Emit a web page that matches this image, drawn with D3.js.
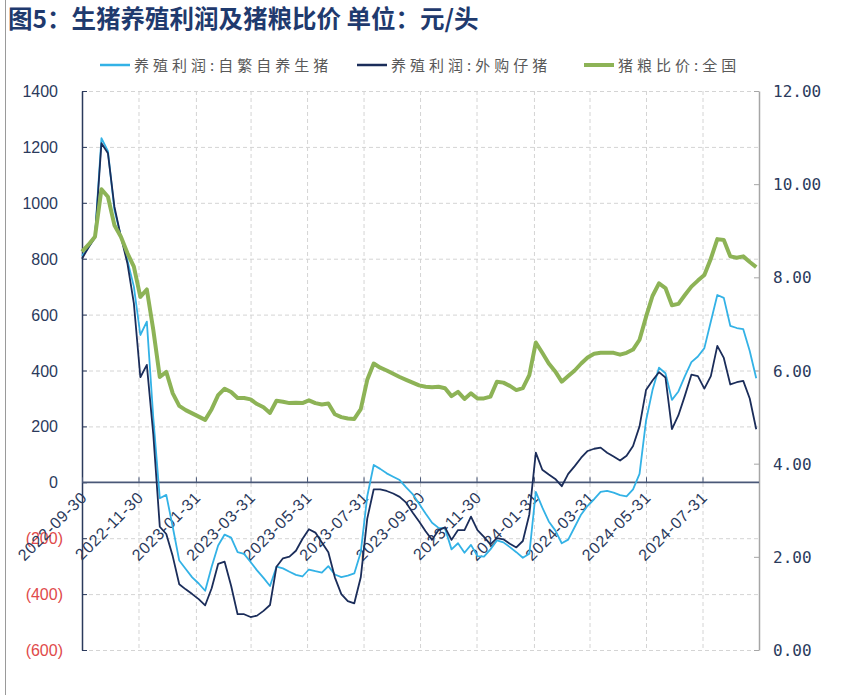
<!DOCTYPE html>
<html><head><meta charset="utf-8">
<script src="https://cdn.jsdelivr.net/npm/d3@7"></script>
<style>body{margin:0;background:#fff;} svg{display:block;}</style>
</head><body><svg id="chart" width="843" height="695"></svg>
<script>
const titleText = "图5：生猪养殖利润及猪粮比价 单位：元/头";
const seriesNames = ["养殖利润:自繁自养生猪", "养殖利润:外购仔猪", "猪粮比价:全国"];
const startDate = "2022-09-30";
const endDate = "2024-09-30";
const tickDates = ["2022-09-30","2022-11-30","2023-01-31","2023-03-31","2023-05-31","2023-07-31","2023-09-30","2023-11-30","2024-01-31","2024-03-31","2024-05-31","2024-07-31"];
const leftTicks = [1400,1200,1000,800,600,400,200,0,-200,-400,-600];
const rightTicks = [0,2,4,6,8,10,12];

// weekly values starting 2022-09-30
const profitSelf = [810,840,880,1231,1185,975,880,795,700,527,575,230,-57,-45,-160,-280,-310,-340,-362,-388,
-302,-226,-187,-198,-250,-256,-285,-315,-342,-371,-302,-308,-320,-331,-337,-312,-318,-323,-300,-330,
-339,-334,-326,-250,-50,62,48,32,20,8,-18,-42,-77,-112,-145,-163,-165,-240,-218,-252,
-224,-264,-266,-240,-208,-215,-232,-250,-270,-256,-34,-90,-140,-172,-218,-205,-160,-115,-84,-60,
-34,-31,-37,-46,-50,-25,30,220,330,410,390,295,325,380,430,450,480,575,670,660,
560,552,548,470,372];
const profitBuy = [800,840,875,1213,1177,986,879,784,640,376,420,170,-159,-185,-265,-365,-383,-400,-418,-440,
-379,-292,-284,-370,-472,-472,-482,-477,-460,-439,-302,-272,-266,-245,-203,-168,-180,-215,-250,-340,
-400,-425,-433,-340,-130,-25,-25,-31,-40,-52,-73,-108,-140,-175,-206,-171,-161,-206,-171,-171,
-123,-171,-195,-222,-200,-204,-220,-233,-210,-115,106,45,28,12,-14,30,58,88,112,120,
124,106,92,78,95,130,200,330,364,394,375,190,240,310,385,380,335,380,488,445,
350,358,363,300,190];
const hogGrainRatio = [8.55,8.70,8.87,9.89,9.73,9.12,8.87,8.52,8.23,7.58,7.74,6.87,5.86,5.97,5.51,5.24,5.15,5.08,5.01,4.94,
5.17,5.47,5.61,5.54,5.41,5.41,5.38,5.28,5.21,5.09,5.35,5.33,5.30,5.31,5.30,5.36,5.30,5.27,5.29,5.06,
5.00,4.97,4.96,5.17,5.80,6.15,6.06,6.00,5.93,5.86,5.80,5.74,5.68,5.65,5.64,5.65,5.62,5.45,5.54,5.39,
5.51,5.40,5.40,5.44,5.76,5.74,5.67,5.58,5.62,5.90,6.60,6.38,6.15,5.98,5.76,5.88,6.00,6.15,6.28,6.36,
6.38,6.38,6.38,6.34,6.38,6.45,6.66,7.15,7.60,7.87,7.77,7.40,7.43,7.62,7.80,7.93,8.05,8.40,8.82,8.80,
8.45,8.42,8.45,8.33,8.22];

const colors = ["#33b2e6", "#1b2d5a", "#8db356"];
const widths = [1.8, 1.8, 4];
const navy = "#2b3a5c";

const parse = d3.timeParse("%Y-%m-%d");
const t0 = parse(startDate);
const dates = profitSelf.map((_, i) => d3.timeDay.offset(t0, 7 * i));

const L = 82, R = 759, T = 91, B = 650;
const x = d3.scaleTime().domain([t0, parse(endDate)]).range([L, R]);
const yL = d3.scaleLinear().domain([-600, 1400]).range([B, T]);
const yR = d3.scaleLinear().domain([0, 12]).range([B, T]);

const svg = d3.select("#chart");
svg.append("rect").attr("width", 843).attr("height", 695).attr("fill", "#fff");
svg.append("line").attr("x1", 5.5).attr("x2", 5.5).attr("y1", 0).attr("y2", 695)
  .attr("stroke", "#9a9a9a").attr("stroke-width", 1);

// title
svg.append("text").attr("x", 8).attr("y", 28).text(titleText)
  .attr("font-family", "'Noto Sans CJK SC', sans-serif").attr("font-weight", "bold")
  .attr("font-size", 24.5).attr("fill", "#1f3a6e");

// grid
const g = svg.append("g");
g.selectAll("line.hg").data(leftTicks.filter(d => d !== 0)).join("line")
  .attr("x1", L).attr("x2", R).attr("y1", d => yL(d) + 0.5).attr("y2", d => yL(d) + 0.5)
  .attr("stroke", "#d4d4d4").attr("stroke-dasharray", "4,3");
g.selectAll("line.vg").data(tickDates.slice(1)).join("line")
  .attr("x1", d => x(parse(d)) + 0.5).attr("x2", d => x(parse(d)) + 0.5).attr("y1", T).attr("y2", B)
  .attr("stroke", "#d4d4d4").attr("stroke-dasharray", "4,3");

// left axis
const axL = svg.append("g").attr("transform", `translate(${L},0)`)
  .call(d3.axisLeft(yL).tickValues(leftTicks).tickSize(0).tickFormat(""));
axL.select(".domain").attr("stroke", navy).attr("stroke-width", 1.5);
svg.selectAll("line.lt").data(leftTicks).join("line")
  .attr("x1", L).attr("x2", L + 5).attr("y1", d => yL(d) + 0.5).attr("y2", d => yL(d) + 0.5)
  .attr("stroke", navy).attr("stroke-width", 1);
svg.selectAll("text.ll").data(leftTicks).join("text")
  .attr("x", d => d < 0 ? 63 : 58).attr("y", d => yL(d) + 6)
  .attr("text-anchor", "end").attr("font-family", "'Liberation Sans', Arial, sans-serif")
  .attr("font-size", 16).attr("fill", d => d < 0 ? "#e04a4a" : navy)
  .text(d => d < 0 ? `(${-d})` : d);

// right axis
const axR = svg.append("g").attr("transform", `translate(${R},0)`)
  .call(d3.axisRight(yR).tickValues(rightTicks).tickSize(0).tickFormat(""));
axR.select(".domain").attr("stroke", "#a6a6a6").attr("stroke-width", 1.5);
svg.selectAll("line.rt").data(rightTicks).join("line")
  .attr("x1", R - 5).attr("x2", R).attr("y1", d => yR(d) + 0.5).attr("y2", d => yR(d) + 0.5)
  .attr("stroke", "#a6a6a6").attr("stroke-width", 1);
svg.selectAll("text.rl").data(rightTicks).join("text")
  .attr("x", 773).attr("y", d => yR(d) + 6)
  .attr("font-family", "'DejaVu Sans Mono', monospace")
  .attr("font-size", 16).attr("fill", navy)
  .text(d => d3.format(".2f")(d));

// x labels
svg.selectAll("text.xl").data(tickDates).join("text")
  .attr("transform", d => `translate(${x(parse(d)) + 6},${yL(0) + 16}) rotate(-45)`)
  .attr("text-anchor", "end").attr("font-family", "'Liberation Sans', Arial, sans-serif")
  .attr("font-size", 16).attr("letter-spacing", 0.8).attr("fill", navy)
  .text(d => d);

// zero line & ticks
svg.append("line").attr("x1", L).attr("x2", R).attr("y1", yL(0)).attr("y2", yL(0))
  .attr("stroke", "#4a5878").attr("stroke-width", 1.8);
svg.selectAll("line.xt").data(tickDates).join("line")
  .attr("x1", d => x(parse(d)) + 0.5).attr("x2", d => x(parse(d)) + 0.5)
  .attr("y1", yL(0) - 5).attr("y2", yL(0)).attr("stroke", "#4a5878").attr("stroke-width", 1);

// lines
const series = [
  { vals: profitSelf, y: yL },
  { vals: profitBuy, y: yL },
  { vals: hogGrainRatio, y: yR }
];
series.forEach((s, k) => {
  const line = d3.line().x((d, i) => x(dates[i])).y(d => s.y(d)).curve(d3.curveLinear);
  svg.append("path").datum(s.vals).attr("d", line).attr("fill", "none")
    .attr("stroke", colors[k]).attr("stroke-width", widths[k]).attr("stroke-linejoin", "round");
});

// legend
const legendX = [100, 357, 584];
const lg = svg.append("g");
seriesNames.forEach((n, k) => {
  lg.append("line").attr("x1", legendX[k]).attr("x2", legendX[k] + 30).attr("y1", 65).attr("y2", 65)
    .attr("stroke", colors[k]).attr("stroke-width", k === 2 ? 4 : 2.5);
  lg.append("text").attr("x", legendX[k] + 34).attr("y", 71).text(n)
    .attr("font-family", "'Noto Sans CJK SC', sans-serif").attr("font-size", 15)
    .attr("letter-spacing", 4).attr("fill", "#595959");
});
</script></body></html>
